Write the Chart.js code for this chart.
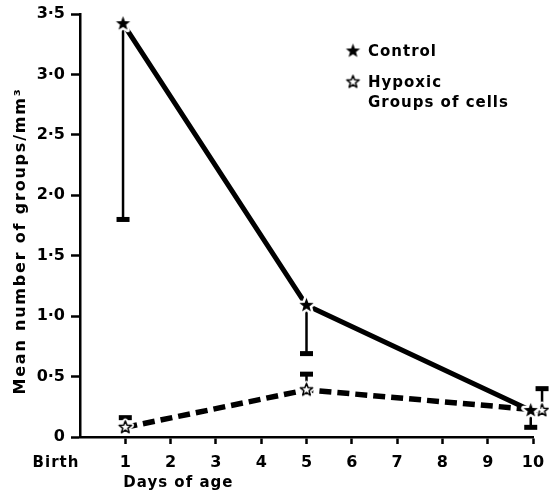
<!DOCTYPE html>
<html>
<head>
<meta charset="utf-8">
<script src="https://cdn.jsdelivr.net/npm/chart.js@4.4.1/dist/chart.umd.min.js"></script>
<style>
  html, body { margin: 0; padding: 0; background: #fff; }
</style>
</head>
<body>
<canvas id="groupsChart" width="549" height="494"></canvas>
<script>
// values
const controlDays = [0.95, 5, 9.95];
const controlMeans = [3.42, 1.09, 0.22];
const controlErrEnds = [1.8, 0.69, 0.08];

const hypoxicDays = [1, 5, 10.2];
const hypoxicMeans = [0.08, 0.39, 0.22];
const hypoxicErrEnds = [0.16, 0.52, 0.40];

const yTickLabels = ['0', '0\u00b75', '1\u00b70', '1\u00b75', '2\u00b70', '2\u00b75', '3\u00b70', '3\u00b75'];
const xTickLabels = ['', '1', '2', '3', '4', '5', '6', '7', '8', '9', '10'];

const FONT = '"DejaVu Sans", sans-serif';

// 5-point star marker drawn onto a small canvas
const makeStar = (filled, r) => {
    const size = Math.ceil(r * 2 + 8);
    const c = document.createElement('canvas');
    c.width = size; c.height = size;
    const g = c.getContext('2d');
    const cx = size / 2, cy = size / 2;
    g.beginPath();
    for (let i = 0; i < 10; i++) {
        const rr = i % 2 === 0 ? r : r * 0.42;
        const a = -Math.PI / 2 + i * Math.PI / 5;
        g.lineTo(cx + rr * Math.cos(a), cy + rr * Math.sin(a));
    }
    g.closePath();
    g.lineJoin = 'round';
    g.strokeStyle = '#fff';
    g.lineWidth = 5;
    g.stroke();
    if (filled) {
        g.fillStyle = '#000';
        g.fill();
    } else {
        g.fillStyle = '#fff';
        g.fill();
        g.strokeStyle = '#000';
        g.lineWidth = 1.5;
        g.stroke();
    }
    return c;
};

const filledStar = makeStar(true, 7.5);
const openStar = makeStar(false, 6.5);

const toPoints = (xs, ys) => xs.map((x, i) => ({ x: x, y: ys[i] }));

// error bars (one-sided) drawn under the lines and stars
const errorBars = {
    id: 'errorBars',
    beforeDatasetsDraw(chart) {
        const { ctx, scales: { x, y } } = chart;
        const sets = [
            [controlDays, controlMeans, controlErrEnds],
            [hypoxicDays, hypoxicMeans, hypoxicErrEnds]
        ];
        ctx.save();
        ctx.strokeStyle = '#000';
        ctx.fillStyle = '#000';
        sets.forEach(([xs, means, ends]) => {
            xs.forEach((d, i) => {
                const px = x.getPixelForValue(d);
                const p0 = y.getPixelForValue(means[i]);
                const p1 = y.getPixelForValue(ends[i]);
                ctx.lineWidth = 2.5;
                ctx.beginPath();
                ctx.moveTo(px, p0);
                ctx.lineTo(px, p1);
                ctx.stroke();
                ctx.fillRect(px - 6.5, p1 - 2.5, 13, 5);
            });
        });
        ctx.restore();
    }
};

// legend, axis titles and the "Birth" label
const annotations = {
    id: 'annotations',
    afterDraw(chart) {
        const { ctx, scales: { x } } = chart;
        ctx.save();
        ctx.fillStyle = '#000';
        ctx.textBaseline = 'middle';
        ctx.font = 'bold 15px ' + FONT;
        ctx.letterSpacing = '1px';

        ctx.drawImage(filledStar, 353 - filledStar.width / 2, 51 - filledStar.height / 2);
        ctx.fillText('Control', 368, 52);
        ctx.drawImage(openStar, 353 - openStar.width / 2, 82 - openStar.height / 2);
        ctx.fillText('Hypoxic', 368, 83);
        ctx.fillText('Groups of cells', 368, 103);

        ctx.font = 'bold 15px ' + FONT;
        ctx.textAlign = 'center';
        ctx.fillText('Birth', 56, 463);

        ctx.textAlign = 'left';
        ctx.fillText('Days of age', x.getPixelForValue(1) - 2, 483);

        ctx.font = 'bold 16px ' + FONT;
        ctx.letterSpacing = '1.8px';
        ctx.translate(21, 241);
        ctx.rotate(-Math.PI / 2);
        ctx.textAlign = 'center';
        ctx.fillText('Mean number of groups/mm\u00b3', 0, 0);
        ctx.restore();
    }
};

new Chart(document.getElementById('groupsChart'), {
    type: 'line',
    data: {
        datasets: [{
            label: 'Control',
            data: toPoints(controlDays, controlMeans),
            borderColor: '#000',
            borderWidth: 5,
            pointStyle: filledStar,
            pointRadius: 7,
            tension: 0,
            clip: false
        }, {
            label: 'Hypoxic',
            data: toPoints(hypoxicDays, hypoxicMeans),
            borderColor: '#000',
            borderWidth: 5.5,
            borderDash: [12, 6],
            pointStyle: openStar,
            pointRadius: 6,
            tension: 0,
            clip: false
        }]
    },
    options: {
        responsive: false,
        animation: false,
        devicePixelRatio: 1,
        layout: { padding: { top: 14, right: 16, left: 0, bottom: 0 } },
        plugins: {
            legend: { display: false },
            tooltip: { enabled: false }
        },
        scales: {
            x: {
                type: 'linear',
                min: 0,
                max: 10,
                ticks: {
                    stepSize: 1,
                    color: '#000',
                    padding: 9,
                    font: { family: FONT, size: 16, weight: 'bold' },
                    callback: v => xTickLabels[v]
                },
                grid: {
                    drawOnChartArea: false,
                    tickLength: 7,
                    tickWidth: 2.5,
                    tickColor: c => (c.tick && c.tick.value === 0 ? 'rgba(0,0,0,0)' : '#000')
                },
                border: { color: '#000', width: 2.5 },
                afterFit: s => { s.height = 57; s.paddingLeft = 0; s.paddingRight = 0; }
            },
            y: {
                min: 0,
                max: 3.5,
                ticks: {
                    stepSize: 0.5,
                    color: '#000',
                    padding: 6,
                    font: { family: FONT, size: 16, weight: 'bold' },
                    callback: v => yTickLabels[Math.round(v * 2)]
                },
                grid: {
                    drawOnChartArea: false,
                    tickLength: 9,
                    tickWidth: 2.5,
                    tickColor: '#000'
                },
                border: { color: '#000', width: 2.5 },
                afterFit: s => { s.width = 80; s.paddingTop = 0; s.paddingBottom = 0; }
            }
        }
    },
    plugins: [errorBars, annotations]
});
</script>
</body>
</html>
